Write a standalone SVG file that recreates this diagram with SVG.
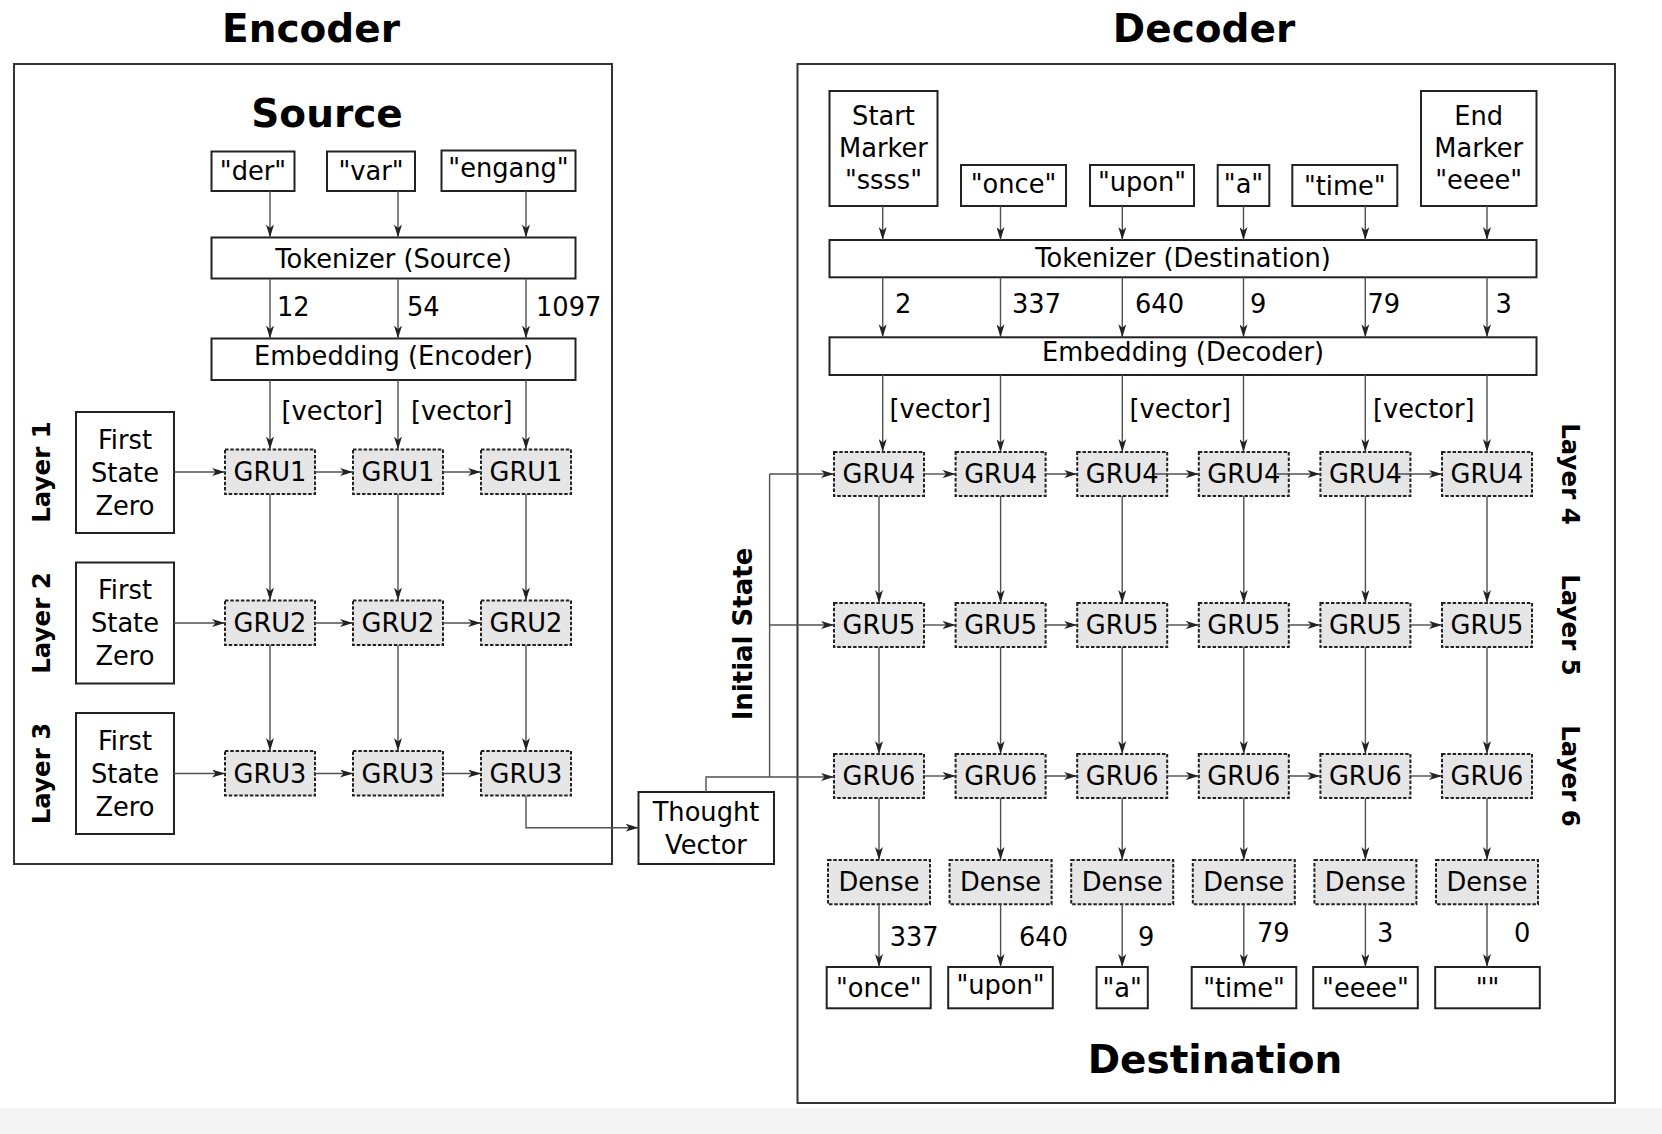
<svg xmlns="http://www.w3.org/2000/svg" width="1662" height="1134" viewBox="0 0 1662 1134">
<defs>
<marker id="ah" viewBox="0 0 13 8" refX="13" refY="4" markerWidth="13" markerHeight="8" markerUnits="userSpaceOnUse" orient="auto">
<path d="M0,0 L13,4 L0,8 L3.5,4 z" fill="#222"/>
</marker>
<style>
text{font-family:"DejaVu Sans","Liberation Sans",sans-serif;fill:#000;font-size:25.7px}
.c{text-anchor:middle}
.title{font-weight:bold;font-size:39px;text-anchor:middle}
.lay{font-weight:bold;font-size:24.5px;text-anchor:middle}
.box{fill:#fff;stroke:#222;stroke-width:2}
.frame{fill:none;stroke:#333;stroke-width:2}
.gru{fill:#e6e6e6;stroke:#222;stroke-width:2;stroke-dasharray:3.5 1.8}
.ln{fill:none;stroke:#505050;stroke-width:1.4}
.ar{fill:none;stroke:#505050;stroke-width:1.4;marker-end:url(#ah)}
</style>
</defs>
<rect x="0" y="0" width="1662" height="1134" fill="#fff"/>
<rect x="0" y="1108" width="1662" height="26" fill="#f4f4f4"/>

<g id="encoder-frame">
<rect class="frame" x="14" y="64" width="598" height="800"/>
<text class="title" x="311" y="42">Encoder</text>
<text class="title" x="327" y="127">Source</text>
</g>
<g id="decoder-frame">
<rect class="frame" x="797.5" y="64" width="817.5" height="1039"/>
<text class="title" x="1204" y="42">Decoder</text>
<text class="title" x="1215" y="1073">Destination</text>
</g>

<g id="enc-words">
<g id="w-der"><rect class="box" x="211.5" y="151.5" width="83" height="39.5"/><text class="c" x="253" y="180">"der"</text></g>
<g id="w-var"><rect class="box" x="327" y="151.5" width="88" height="39.5"/><text class="c" x="371" y="180">"var"</text></g>
<g id="w-engang"><rect class="box" x="441.5" y="150.5" width="134" height="40.5"/><text class="c" x="508.5" y="177">"engang"</text></g>
</g>
<g id="tok-src"><rect class="box" x="211.5" y="237.5" width="364" height="41"/><text class="c" x="393.5" y="268">Tokenizer (Source)</text></g>
<g id="emb-enc"><rect class="box" x="211.5" y="338.5" width="364" height="41.5"/><text class="c" x="393.5" y="365">Embedding (Encoder)</text></g>

<g id="first-states">
<g id="fs1"><rect class="box" x="76" y="412" width="98" height="121"/><text class="c" x="125" y="448.5">First</text><text class="c" x="125" y="481.5">State</text><text class="c" x="125" y="514.5">Zero</text></g>
<g id="fs2"><rect class="box" x="76" y="562.5" width="98" height="121"/><text class="c" x="125" y="599">First</text><text class="c" x="125" y="632">State</text><text class="c" x="125" y="665">Zero</text></g>
<g id="fs3"><rect class="box" x="76" y="713" width="98" height="121"/><text class="c" x="125" y="749.5">First</text><text class="c" x="125" y="782.5">State</text><text class="c" x="125" y="815.5">Zero</text></g>
</g>
<g id="enc-layer-labels">
<text class="lay" transform="translate(50,472) rotate(-90)">Layer 1</text>
<text class="lay" transform="translate(50,623) rotate(-90)">Layer 2</text>
<text class="lay" transform="translate(50,773.5) rotate(-90)">Layer 3</text>
</g>

<g id="enc-gru">
<g id="g1a"><rect class="gru" x="225" y="449.5" width="90" height="44.5"/><text class="c" x="270" y="481">GRU1</text></g>
<g id="g1b"><rect class="gru" x="353" y="449.5" width="90" height="44.5"/><text class="c" x="398" y="481">GRU1</text></g>
<g id="g1c"><rect class="gru" x="481" y="449.5" width="90" height="44.5"/><text class="c" x="526" y="481">GRU1</text></g>
<g id="g2a"><rect class="gru" x="225" y="600.5" width="90" height="44.5"/><text class="c" x="270" y="632">GRU2</text></g>
<g id="g2b"><rect class="gru" x="353" y="600.5" width="90" height="44.5"/><text class="c" x="398" y="632">GRU2</text></g>
<g id="g2c"><rect class="gru" x="481" y="600.5" width="90" height="44.5"/><text class="c" x="526" y="632">GRU2</text></g>
<g id="g3a"><rect class="gru" x="225" y="751" width="90" height="44.5"/><text class="c" x="270" y="782.5">GRU3</text></g>
<g id="g3b"><rect class="gru" x="353" y="751" width="90" height="44.5"/><text class="c" x="398" y="782.5">GRU3</text></g>
<g id="g3c"><rect class="gru" x="481" y="751" width="90" height="44.5"/><text class="c" x="526" y="782.5">GRU3</text></g>
</g>

<g id="thought"><rect class="box" x="638.5" y="792" width="135.5" height="72"/><text class="c" x="706" y="821">Thought</text><text class="c" x="706" y="854">Vector</text></g>
<g id="initial-state-label"><text class="lay" style="font-size:26px" transform="translate(752,634) rotate(-90)">Initial State</text></g>

<g id="dec-inputs">
<g id="d-start"><rect class="box" x="829.5" y="91" width="108" height="115"/><text class="c" x="883.5" y="125">Start</text><text class="c" x="883.5" y="157">Marker</text><text class="c" x="883.5" y="189">"ssss"</text></g>
<g id="d-once"><rect class="box" x="961" y="165" width="105" height="41"/><text class="c" x="1013.5" y="193">"once"</text></g>
<g id="d-upon"><rect class="box" x="1090" y="165" width="104" height="41"/><text class="c" x="1142" y="190.5">"upon"</text></g>
<g id="d-a"><rect class="box" x="1217.7" y="165" width="51.6" height="41"/><text class="c" x="1243.5" y="193">"a"</text></g>
<g id="d-time"><rect class="box" x="1292.3" y="165" width="105" height="41"/><text class="c" x="1344.8" y="195">"time"</text></g>
<g id="d-end"><rect class="box" x="1421" y="91" width="115.5" height="115"/><text class="c" x="1478.7" y="125">End</text><text class="c" x="1478.7" y="157">Marker</text><text class="c" x="1478.7" y="189">"eeee"</text></g>
</g>
<g id="tok-dst"><rect class="box" x="829.5" y="240" width="707" height="37.3"/><text class="c" x="1183" y="267">Tokenizer (Destination)</text></g>
<g id="emb-dec"><rect class="box" x="829.5" y="337.3" width="707" height="37.7"/><text class="c" x="1183" y="361">Embedding (Decoder)</text></g>

<g id="dec-gru">
<g id="g4-1"><rect class="gru" x="834" y="452" width="90" height="44"/><text class="c" x="879" y="483">GRU4</text></g>
<g id="g4-2"><rect class="gru" x="955.6" y="452" width="90" height="44"/><text class="c" x="1000.6" y="483">GRU4</text></g>
<g id="g4-3"><rect class="gru" x="1077.2" y="452" width="90" height="44"/><text class="c" x="1122.2" y="483">GRU4</text></g>
<g id="g4-4"><rect class="gru" x="1198.8" y="452" width="90" height="44"/><text class="c" x="1243.8" y="483">GRU4</text></g>
<g id="g4-5"><rect class="gru" x="1320.4" y="452" width="90" height="44"/><text class="c" x="1365.4" y="483">GRU4</text></g>
<g id="g4-6"><rect class="gru" x="1442" y="452" width="90" height="44"/><text class="c" x="1487" y="483">GRU4</text></g>
<g id="g5-1"><rect class="gru" x="834" y="603" width="90" height="44"/><text class="c" x="879" y="634">GRU5</text></g>
<g id="g5-2"><rect class="gru" x="955.6" y="603" width="90" height="44"/><text class="c" x="1000.6" y="634">GRU5</text></g>
<g id="g5-3"><rect class="gru" x="1077.2" y="603" width="90" height="44"/><text class="c" x="1122.2" y="634">GRU5</text></g>
<g id="g5-4"><rect class="gru" x="1198.8" y="603" width="90" height="44"/><text class="c" x="1243.8" y="634">GRU5</text></g>
<g id="g5-5"><rect class="gru" x="1320.4" y="603" width="90" height="44"/><text class="c" x="1365.4" y="634">GRU5</text></g>
<g id="g5-6"><rect class="gru" x="1442" y="603" width="90" height="44"/><text class="c" x="1487" y="634">GRU5</text></g>
<g id="g6-1"><rect class="gru" x="834" y="754" width="90" height="44"/><text class="c" x="879" y="785">GRU6</text></g>
<g id="g6-2"><rect class="gru" x="955.6" y="754" width="90" height="44"/><text class="c" x="1000.6" y="785">GRU6</text></g>
<g id="g6-3"><rect class="gru" x="1077.2" y="754" width="90" height="44"/><text class="c" x="1122.2" y="785">GRU6</text></g>
<g id="g6-4"><rect class="gru" x="1198.8" y="754" width="90" height="44"/><text class="c" x="1243.8" y="785">GRU6</text></g>
<g id="g6-5"><rect class="gru" x="1320.4" y="754" width="90" height="44"/><text class="c" x="1365.4" y="785">GRU6</text></g>
<g id="g6-6"><rect class="gru" x="1442" y="754" width="90" height="44"/><text class="c" x="1487" y="785">GRU6</text></g>
</g>
<g id="dec-layer-labels">
<text class="lay" transform="translate(1562,474) rotate(90)">Layer 4</text>
<text class="lay" transform="translate(1562,625) rotate(90)">Layer 5</text>
<text class="lay" transform="translate(1562,776) rotate(90)">Layer 6</text>
</g>

<g id="dense">
<g id="dn1"><rect class="gru" x="828" y="860" width="102" height="44.3"/><text class="c" x="879" y="890.5">Dense</text></g>
<g id="dn2"><rect class="gru" x="949.6" y="860" width="102" height="44.3"/><text class="c" x="1000.6" y="890.5">Dense</text></g>
<g id="dn3"><rect class="gru" x="1071.2" y="860" width="102" height="44.3"/><text class="c" x="1122.2" y="890.5">Dense</text></g>
<g id="dn4"><rect class="gru" x="1192.8" y="860" width="102" height="44.3"/><text class="c" x="1243.8" y="890.5">Dense</text></g>
<g id="dn5"><rect class="gru" x="1314.4" y="860" width="102" height="44.3"/><text class="c" x="1365.4" y="890.5">Dense</text></g>
<g id="dn6"><rect class="gru" x="1436" y="860" width="102" height="44.3"/><text class="c" x="1487" y="890.5">Dense</text></g>
</g>

<g id="outputs">
<g id="o1"><rect class="box" x="826.7" y="967" width="104" height="41.3"/><text class="c" x="878.7" y="997">"once"</text></g>
<g id="o2"><rect class="box" x="948.2" y="967" width="104.6" height="41.3"/><text class="c" x="1000.5" y="994">"upon"</text></g>
<g id="o3"><rect class="box" x="1096.6" y="967" width="51.2" height="41.3"/><text class="c" x="1122.2" y="997">"a"</text></g>
<g id="o4"><rect class="box" x="1191.7" y="967" width="104.6" height="41.3"/><text class="c" x="1244" y="997">"time"</text></g>
<g id="o5"><rect class="box" x="1313.2" y="967" width="104.6" height="41.3"/><text class="c" x="1365.5" y="997">"eeee"</text></g>
<g id="o6"><rect class="box" x="1435.2" y="967" width="104.6" height="41.3"/><text class="c" x="1487.5" y="997">""</text></g>
</g>

<g id="connectors">
<path class="ar" d="M270,191 V237.5"/>
<path class="ar" d="M398,191 V237.5"/>
<path class="ar" d="M526,191 V237.5"/>
<path class="ar" d="M270,278.5 V338.5"/>
<path class="ar" d="M398,278.5 V338.5"/>
<path class="ar" d="M526,278.5 V338.5"/>
<path class="ar" d="M270,380 V449.5"/>
<path class="ar" d="M398,380 V449.5"/>
<path class="ar" d="M526,380 V449.5"/>
<path class="ar" d="M270,494 V600.5"/>
<path class="ar" d="M398,494 V600.5"/>
<path class="ar" d="M526,494 V600.5"/>
<path class="ar" d="M270,645 V751"/>
<path class="ar" d="M398,645 V751"/>
<path class="ar" d="M526,645 V751"/>
<path class="ar" d="M174,472 H225"/>
<path class="ar" d="M315,472 H353"/>
<path class="ar" d="M443,472 H481"/>
<path class="ar" d="M174,623 H225"/>
<path class="ar" d="M315,623 H353"/>
<path class="ar" d="M443,623 H481"/>
<path class="ar" d="M174,773.5 H225"/>
<path class="ar" d="M315,773.5 H353"/>
<path class="ar" d="M443,773.5 H481"/>
<path class="ar" d="M526,795.5 V827.7 H638.5"/>
<path class="ar" d="M706,792 V777 H834"/>
<path class="ln" d="M769.6,777 V474"/>
<path class="ar" d="M769.6,474 H834"/>
<path class="ar" d="M769.6,625 H834"/>

<path class="ar" d="M882.7,206 V240"/>
<path class="ar" d="M1000.5,206 V240"/>
<path class="ar" d="M1122.3,206 V240"/>
<path class="ar" d="M1243.5,206 V240"/>
<path class="ar" d="M1365.3,206 V240"/>
<path class="ar" d="M1487,206 V240"/>
<path class="ar" d="M882.7,277.3 V337.3"/>
<path class="ar" d="M1000.5,277.3 V337.3"/>
<path class="ar" d="M1122.3,277.3 V337.3"/>
<path class="ar" d="M1243.5,277.3 V337.3"/>
<path class="ar" d="M1365.3,277.3 V337.3"/>
<path class="ar" d="M1487,277.3 V337.3"/>
<path class="ar" d="M882.7,375 V452"/>
<path class="ar" d="M1000.5,375 V452"/>
<path class="ar" d="M1122.3,375 V452"/>
<path class="ar" d="M1243.5,375 V452"/>
<path class="ar" d="M1365.3,375 V452"/>
<path class="ar" d="M1487,375 V452"/>

<path class="ar" d="M879,496 V603"/>
<path class="ar" d="M1000.6,496 V603"/>
<path class="ar" d="M1122.2,496 V603"/>
<path class="ar" d="M1243.8,496 V603"/>
<path class="ar" d="M1365.4,496 V603"/>
<path class="ar" d="M1487,496 V603"/>
<path class="ar" d="M879,647 V754"/>
<path class="ar" d="M1000.6,647 V754"/>
<path class="ar" d="M1122.2,647 V754"/>
<path class="ar" d="M1243.8,647 V754"/>
<path class="ar" d="M1365.4,647 V754"/>
<path class="ar" d="M1487,647 V754"/>
<path class="ar" d="M879,798 V860"/>
<path class="ar" d="M1000.6,798 V860"/>
<path class="ar" d="M1122.2,798 V860"/>
<path class="ar" d="M1243.8,798 V860"/>
<path class="ar" d="M1365.4,798 V860"/>
<path class="ar" d="M1487,798 V860"/>
<path class="ar" d="M879,904.3 V967"/>
<path class="ar" d="M1000.6,904.3 V967"/>
<path class="ar" d="M1122.2,904.3 V967"/>
<path class="ar" d="M1243.8,904.3 V967"/>
<path class="ar" d="M1365.4,904.3 V967"/>
<path class="ar" d="M1487,904.3 V967"/>

<path class="ar" d="M924,474 H955.6"/>
<path class="ar" d="M1045.6,474 H1077.2"/>
<path class="ar" d="M1155,474 H1198.8"/>
<path class="ar" d="M1277,474 H1320.4"/>
<path class="ar" d="M1398,474 H1442"/>
<path class="ar" d="M924,625 H955.6"/>
<path class="ar" d="M1045.6,625 H1077.2"/>
<path class="ar" d="M1167.2,625 H1198.8"/>
<path class="ar" d="M1288.8,625 H1320.4"/>
<path class="ar" d="M1410.4,625 H1442"/>
<path class="ar" d="M924,776 H955.6"/>
<path class="ar" d="M1045.6,776 H1077.2"/>
<path class="ar" d="M1167.2,776 H1198.8"/>
<path class="ar" d="M1288.8,776 H1320.4"/>
<path class="ar" d="M1410.4,776 H1442"/>
</g>

<g id="edge-labels">
<text x="277" y="316">12</text>
<text x="407" y="316">54</text>
<text x="536" y="316">1097</text>
<text x="281.5" y="420">[vector]</text>
<text x="411" y="420">[vector]</text>
<text x="895" y="313">2</text>
<text x="1012" y="313">337</text>
<text x="1135" y="313">640</text>
<text x="1250" y="313">9</text>
<text x="1367.5" y="313">79</text>
<text x="1495.5" y="313">3</text>
<text x="889.5" y="418">[vector]</text>
<text x="1129.5" y="418">[vector]</text>
<text x="1373" y="418">[vector]</text>
<text x="889.7" y="946">337</text>
<text x="1019" y="946">640</text>
<text x="1138" y="946">9</text>
<text x="1257" y="941.7">79</text>
<text x="1377" y="941.7">3</text>
<text x="1514" y="941.7">0</text>
</g>
</svg>
